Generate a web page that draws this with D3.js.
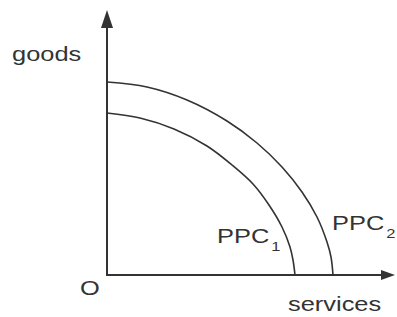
<!DOCTYPE html>
<html>
<head>
<meta charset="utf-8">
<script src="https://cdn.jsdelivr.net/npm/d3@7"></script>
<style>
  body { margin: 0; background: #fff; }
  text { font-family: "Liberation Sans", Arial, sans-serif; fill: #333; }
</style>
</head>
<body>
<svg class="ppc" width="397" height="317"></svg>
<script>
// frontier points: [services, goods]
const ppc1 = [[0, 162], [33, 157], [67, 146], [100, 129], [125, 110], [146, 91],
  [162, 70], [175, 48], [183, 28], [186, 15], [188, 0]];
const ppc2 = [[0, 193], [40, 188], [80, 175], [120, 154], [150, 132], [175, 108],
  [195, 83], [210, 58], [220, 33], [224, 18], [226, 0]];
const curveNames = ['1', '2'];

const svg = d3.select('.ppc');

const x = d3.scaleLinear().domain([0, 288]).range([107, 395]);
const y = d3.scaleLinear().domain([0, 265]).range([275, 10]);

const ink = '#333';

// axes
svg.append('line')
  .attr('x1', x(0)).attr('y1', y(0))
  .attr('x2', x(0)).attr('y2', y(250))
  .attr('stroke', ink).attr('stroke-width', 2);

svg.append('line')
  .attr('x1', x(0) - 1).attr('y1', y(0))
  .attr('x2', x(276)).attr('y2', y(0))
  .attr('stroke', ink).attr('stroke-width', 2);

// arrow heads
svg.append('path')
  .attr('d', `M${x(0)},${y(265)} L${x(0) - 6},${y(247)} L${x(0) + 6},${y(247)} Z`)
  .attr('fill', ink);

svg.append('path')
  .attr('d', `M${x(288)},${y(0)} L${x(274)},${y(0) - 5} L${x(274)},${y(0) + 5} Z`)
  .attr('fill', ink);

// frontiers
const line = d3.line()
  .x(d => x(d[0]))
  .y(d => y(d[1]))
  .curve(d3.curveCatmullRom);

svg.selectAll('path.ppc-line')
  .data([ppc1, ppc2])
  .enter()
  .append('path')
  .attr('class', 'ppc-line')
  .attr('d', line)
  .attr('fill', 'none')
  .attr('stroke', ink)
  .attr('stroke-width', 1.6);

// labels (the picture is stretched sideways, so the text is too)
const label = (px, py, txt, sub) => {
  const t = svg.append('text')
    .attr('transform', `translate(${px},${py}) scale(1.27,1)`)
    .attr('font-size', 20)
    .text(txt);
  if (sub) {
    t.append('tspan')
      .attr('dx', 1.5)
      .attr('dy', 8)
      .attr('font-size', 13)
      .text(sub);
  }
};

label(12, 61, 'goods');
label(80, 295, 'O');
label(288, 311, 'services');
label(217, 243, 'PPC', curveNames[0]);
label(332, 230, 'PPC', curveNames[1]);
</script>
</body>
</html>
